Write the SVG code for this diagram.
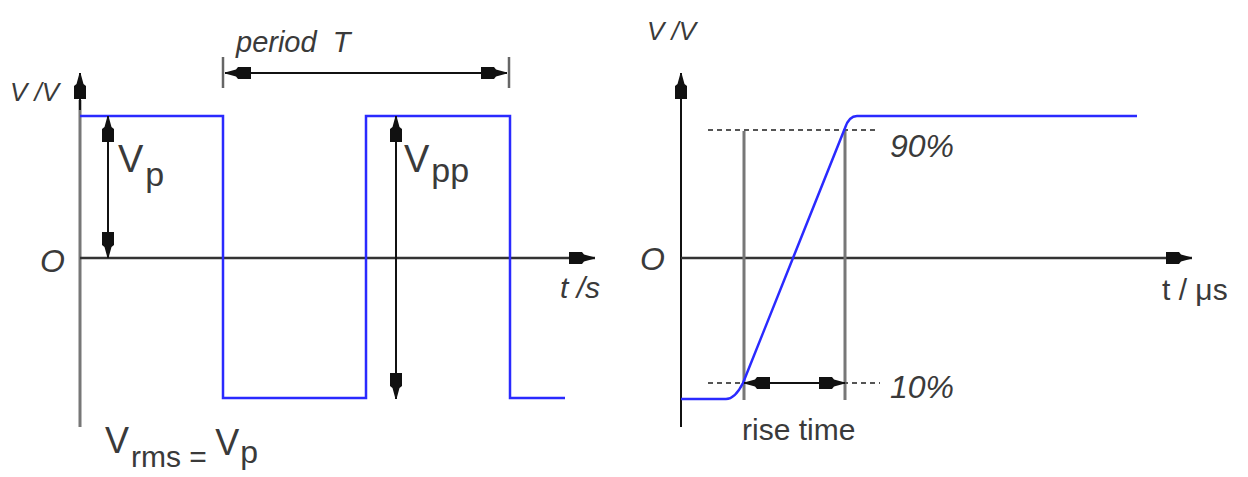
<svg xmlns="http://www.w3.org/2000/svg" width="1248" height="477" viewBox="0 0 1248 477">
<defs>
<marker id="ah" viewBox="0 -7 26 14" refX="26" refY="0" markerWidth="26" markerHeight="14" markerUnits="userSpaceOnUse" orient="auto-start-reverse">
<path d="M0,-6 L13,-6 L15,-3.5 L26,-0.5 L26,0.5 L15,3.5 L13,6 L0,6 Z" fill="#111"/>
</marker>
</defs>
<style>
.t{font-family:"Liberation Sans","DejaVu Sans",sans-serif;fill:#3a3a3a}
.i{font-style:italic}
.wave{fill:none;stroke:#2a2aff;stroke-width:2.5;stroke-linejoin:miter}
.ax{stroke:#333;stroke-width:2.5;fill:none}
.gax{stroke:#777;stroke-width:3;fill:none}
.dim{stroke:#111;stroke-width:2;fill:none}
.dash{stroke:#555;stroke-width:1.8;stroke-dasharray:5 4;fill:none}
.tick{stroke:#666;stroke-width:2.5}
</style>
<rect width="1248" height="477" fill="#fff"/>

<g id="left-graph">
  <g id="left-axes">
    <line class="gax" x1="80" y1="427" x2="80" y2="100"/>
    <line class="dim" x1="80" y1="110" x2="80" y2="73" marker-end="url(#ah)"/>
    <line class="ax" x1="80" y1="258" x2="595" y2="258" marker-end="url(#ah)"/>
  </g>
  <g id="square-wave">
    <polyline class="wave" points="80,116 223,116 223,398 366,398 366,116 510,116 510,398 565,398"/>
  </g>
  <g id="left-dimensions">
    <line class="dim" x1="108" y1="116" x2="108" y2="258" marker-start="url(#ah)" marker-end="url(#ah)"/>
    <line class="dim" x1="396" y1="116" x2="396" y2="399" marker-start="url(#ah)" marker-end="url(#ah)"/>
    <line class="tick" x1="223" y1="57" x2="223" y2="88"/>
    <line class="tick" x1="509" y1="57" x2="509" y2="88"/>
    <line class="dim" x1="225" y1="73" x2="507" y2="73" marker-start="url(#ah)" marker-end="url(#ah)"/>
  </g>
  <g id="left-labels">
    <text class="t i" x="10" y="101" font-size="26">V /V</text>
    <text class="t i" x="236" y="52" font-size="29" xml:space="preserve">period  T</text>
    <text class="t" x="118" y="172" font-size="38">V<tspan dx="2" dy="14" font-size="34">p</tspan></text>
    <text class="t" x="404" y="172" font-size="38">V<tspan dx="2" dy="10" font-size="34">pp</tspan></text>
    <text class="t i" x="40" y="272" font-size="32">O</text>
    <text class="t i" x="560" y="298" font-size="30">t /s</text>
    <text class="t" x="105" y="453" font-size="36">V<tspan dx="2" dy="14" font-size="30">rms = </tspan><tspan dy="-12" font-size="36">V</tspan><tspan dx="1" dy="8" font-size="32">p</tspan></text>
  </g>
</g>

<g id="right-graph">
  <g id="right-axes">
    <line class="dim" x1="681" y1="427" x2="681" y2="73" marker-end="url(#ah)"/>
    <line class="ax" x1="681" y1="258" x2="1192" y2="258" marker-end="url(#ah)"/>
  </g>
  <g id="guides">
    <line class="gax" x1="744" y1="131" x2="744" y2="400"/>
    <line class="gax" x1="845" y1="131" x2="845" y2="400"/>
    <line class="dash" x1="708" y1="130" x2="878" y2="130"/>
    <line class="dash" x1="708" y1="383" x2="880" y2="383"/>
  </g>
  <g id="ramp-wave">
    <path class="wave" d="M681,399 L726,399 Q735,399 743,383 L845,128 Q849,116 857,116 L1137,116"/>
  </g>
  <g id="rise-time-arrow">
    <line class="dim" x1="744" y1="383" x2="845" y2="383" marker-start="url(#ah)" marker-end="url(#ah)"/>
  </g>
  <g id="right-labels">
    <text class="t i" x="647" y="40" font-size="26">V /V</text>
    <text class="t i" x="890" y="157" font-size="32">90%</text>
    <text class="t i" x="890" y="398" font-size="32">10%</text>
    <text class="t" x="742" y="440" font-size="30">rise time</text>
    <text class="t i" x="640" y="270" font-size="32">O</text>
    <text class="t" x="1162" y="300" font-size="30">t / μs</text>
  </g>
</g>
</svg>
